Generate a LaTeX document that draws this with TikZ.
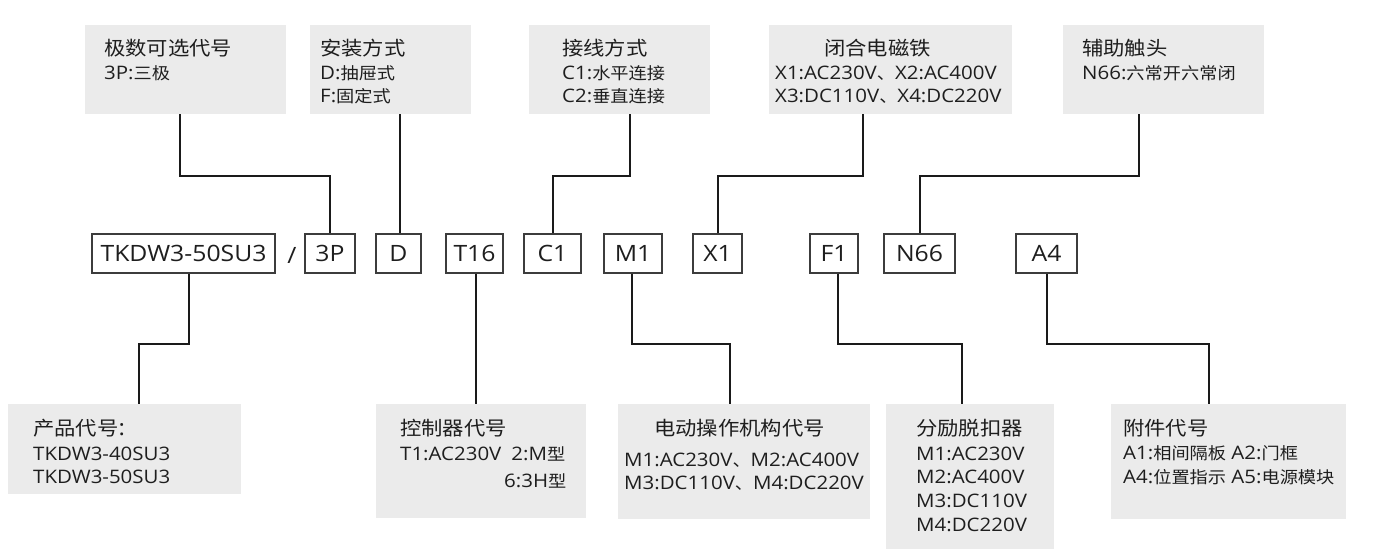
\documentclass[tikz,border=0pt]{standalone}
\usepackage{fontspec}
\setmainfont{Open Sans}[FakeStretch=1.1]
\newfontfamily\zhfont{Noto Sans CJK SC}[Scale=0.89,FakeStretch=1.1]
\newcommand\zh[1]{{\zhfont #1}}
\definecolor{boxgray}{HTML}{EBEBEB}
\definecolor{textc}{HTML}{1E1E1E}
\definecolor{linec}{HTML}{1A1A1A}
\begin{document}
\begin{tikzpicture}[x=1pt,y=-1pt,
  gbox/.style={fill=boxgray,draw=none,inner sep=0pt},
  cbox/.style={draw=linec!85,line width=1.1pt,minimum height=39pt,inner sep=0pt,text=textc,font=\fontsize{22.5}{22.5}\selectfont},
  ttl/.style={anchor=base west,inner sep=0pt,text=textc,font=\fontsize{21.8}{21.8}\selectfont\zhfont},
  sub/.style={anchor=base west,inner sep=0pt,text=textc,font=\fontsize{18.6}{18.6}\selectfont},
  conn/.style={draw=linec,line width=2pt}]
\useasboundingbox (0,0) rectangle (1377,559);
% top gray boxes
\node[gbox,minimum width=201pt,minimum height=89pt] (t1) at (185.5,69.5) {};
\node[gbox,minimum width=161pt,minimum height=89pt] (t2) at (390.5,69.5) {};
\node[gbox,minimum width=181pt,minimum height=89pt] (t3) at (619.5,69.5) {};
\node[gbox,minimum width=243pt,minimum height=89pt] (t4) at (890.5,69.5) {};
\node[gbox,minimum width=201pt,minimum height=89pt] (t5) at (1163.5,69.5) {};
% top texts
\node[ttl] (t1a) at (104,55.5) {极数可选代号};
\node[sub] (t1b) at (104,79.5) {3P:\zh{三极}};
\node[ttl] (t2a) at (320,55.5) {安装方式};
\node[sub] (t2b) at (320,79.5) {D:\zh{抽屉式}};
\node[sub] (t2c) at (320,102.7) {F:\zh{固定式}};
\node[ttl] (t3a) at (562,55.5) {接线方式};
\node[sub] (t3b) at (562,79.5) {C1:\zh{水平连接}};
\node[sub] (t3c) at (562,102.7) {C2:\zh{垂直连接}};
\node[ttl] (t4a) at (824,55.5) {闭合电磁铁};
\node[sub] (t4b) at (775,79.5) {X1:AC230V\zh{、}X2:AC400V};
\node[sub] (t4c) at (775,102.7) {X3:DC110V\zh{、}X4:DC220V};
\node[ttl] (t5a) at (1082,55.5) {辅助触头};
\node[sub] (t5b) at (1082,79.5) {N66:\zh{六常开六常闭}};
% middle code boxes
\node[cbox,minimum width=183pt] (m0) at (183.5,253.5) {TKDW3-50SU3};
\node[inner sep=0pt,text=textc,font=\fontsize{22.5}{22.5}\selectfont] (sl) at (292,255) {/};
\node[cbox,minimum width=50pt] (p3) at (330,253.5) {3P};
\node[cbox,minimum width=45pt] (dd) at (398.5,253.5) {D};
\node[cbox,minimum width=57pt] (t16) at (474.5,253.5) {T16};
\node[cbox,minimum width=57pt] (c1) at (552.5,253.5) {C1};
\node[cbox,minimum width=58pt] (m1) at (633,253.5) {M1};
\node[cbox,minimum width=49pt] (x1) at (717.5,253.5) {X1};
\node[cbox,minimum width=48pt] (f1) at (834,253.5) {F1};
\node[cbox,minimum width=71pt] (n66) at (919.5,253.5) {N66};
\node[cbox,minimum width=61pt] (a4) at (1046.5,253.5) {A4};
% bottom gray boxes
\node[gbox,minimum width=233pt,minimum height=90pt] (b1) at (124.5,449) {};
\node[gbox,minimum width=210pt,minimum height=114pt] (b2) at (481,461) {};
\node[gbox,minimum width=252pt,minimum height=115pt] (b3) at (744,461.5) {};
\node[gbox,minimum width=168pt,minimum height=145pt] (b4) at (970,476.5) {};
\node[gbox,minimum width=235pt,minimum height=115pt] (b5) at (1228.5,461.5) {};
% bottom texts
\node[ttl] (b1a) at (33,435.5) {产品代号{\normalfont:}};
\node[sub] (b1b) at (33,460) {TKDW3-40SU3};
\node[sub] (b1c) at (33,483.3) {TKDW3-50SU3};
\node[ttl] (b2a) at (400,435.5) {控制器代号};
\node[sub] (b2b) at (400,460) {T1:AC230V\hspace{10pt}2:M\zh{型}};
\node[sub] (b2c) at (504,487) {6:3H\zh{型}};
\node[ttl] (b3a) at (654,435.5) {电动操作机构代号};
\node[sub] (b3b) at (624,466) {M1:AC230V\zh{、}M2:AC400V};
\node[sub] (b3c) at (624,489.5) {M3:DC110V\zh{、}M4:DC220V};
\node[ttl] (b4a) at (916,435.5) {分励脱扣器};
\node[sub] (b4b) at (916,460) {M1:AC230V};
\node[sub] (b4c) at (916,483.3) {M2:AC400V};
\node[sub] (b4d) at (916,507.7) {M3:DC110V};
\node[sub] (b4e) at (916,531.7) {M4:DC220V};
\node[ttl] (b5a) at (1123,435.5) {附件代号};
\node[sub] (b5b) at (1123,459.3) {A1:\zh{相间隔板} A2:\zh{门框}};
\node[sub] (b5c) at (1123,483) {A4:\zh{位置指示} A5:\zh{电源模块}};
% top connectors
\coordinate (ht) at (0,176);
\coordinate (hb) at (0,344);
\draw[conn] ([xshift=-5.5pt]t1.south) |- (p3.north |- ht) -- (p3.north);
\draw[conn] ([xshift=1.5pt]dd.north |- t2.south) -- ([xshift=1.5pt]dd.north);
\draw[conn] ([xshift=10.5pt]t3.south) |- (c1.north |- ht) -- (c1.north);
\draw[conn] ([xshift=-27.5pt]t4.south) |- (x1.north |- ht) -- (x1.north);
\draw[conn] ([xshift=-24.5pt]t5.south) |- (n66.north |- ht) -- (n66.north);
% bottom connectors
\draw[conn] ([xshift=5.5pt]m0.south) |- ([xshift=14.5pt]b1.north |- hb) -- ([xshift=14.5pt]b1.north);
\draw[conn] ([xshift=1.5pt]t16.south) -- ([xshift=1.5pt]t16.south |- b2.north);
\draw[conn] ([xshift=-1pt]m1.south) |- ([xshift=-14pt]b3.north |- hb) -- ([xshift=-14pt]b3.north);
\draw[conn] ([xshift=4pt]f1.south) |- ([xshift=-8pt]b4.north |- hb) -- ([xshift=-8pt]b4.north);
\draw[conn] (a4.south) |- ([xshift=-19.5pt]b5.north |- hb) -- ([xshift=-19.5pt]b5.north);
\end{tikzpicture}
\end{document}
